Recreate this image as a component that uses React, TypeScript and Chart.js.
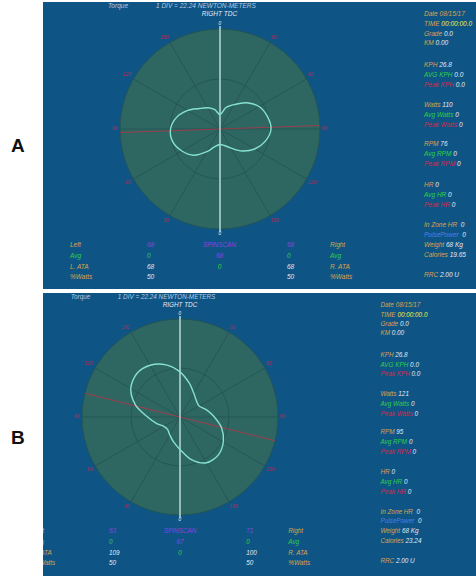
import React, { useEffect, useRef } from 'react';
import { Chart, registerables } from 'chart.js';

Chart.register(...registerables);

// ---------------- data ----------------
// crank angle (degrees, clockwise from right TDC)
const crankAngles = [0, 15, 30, 45, 60, 75, 90, 105, 120, 135, 150, 165, 180, 195, 210, 225, 240, 255, 270, 285, 300, 315, 330, 345];
// polar tick labels every 30 degrees (right leg from top, left leg from bottom)
const angleTickLabels = ['0', '30', '60', '90', '120', '150', '0', '30', '60', '90', '120', '150'];
// torque in newton-meters at each crank angle
const torqueA = [6.4, 9.8, 12.5, 16.5, 20.0, 21.8, 22.7, 20.9, 17.8, 13.8, 9.8, 7.6, 6.9, 8.0, 11.6, 16.5, 19.6, 21.8, 22.0, 20.0, 16.5, 12.9, 10.9, 8.9];
const torqueB = [20.5, 16.0, 12.5, 10.5, 10.0, 12.5, 15.6, 19.6, 22.7, 24.5, 24.0, 20.0, 14.7, 11.6, 9.3, 8.0, 8.5, 11.1, 14.7, 20.9, 25.8, 27.8, 27.1, 24.5];
const nmPerDiv = 22.24;
const divisions = 2;
const peakLineAngleA = 88;
const peakLineAngleB = 104;

const statLabels = ['Date', 'TIME', 'Grade', 'KM', 'KPH', 'AVG KPH', 'Peak KPH', 'Watts', 'Avg Watts', 'Peak Watts', 'RPM', 'Avg RPM', 'Peak RPM', 'HR', 'Avg HR', 'Peak HR', 'In Zone HR', 'PulsePower', 'Weight', 'Calories', 'RRC'];
const statValuesA = ['08/15/17', '00:00:00.0', '0.0', '0.00', '26.8', '0.0', '0.0', '110', '0', '0', '76', '0', '0', '0', '0', '0', ' 0', ' 0', '68 Kg', '19.65', '2.00 U'];
const statValuesB = ['08/15/17', '00:00:00.0', '0.0', '0.00', '26.8', '0.0', '0.0', '121', '0', '0', '95', '0', '0', '0', '0', '0', ' 0', ' 0', '68 Kg', '23.24', '2.00 U'];

const tableLabelsLeft = ['Left', 'Avg', 'L. ATA', '%Watts'];
const tableLabelsRight = ['Right', 'Avg', 'R. ATA', '%Watts'];
const leftLegA = ['68', '0', '68', '50'];
const centerA = ['SPINSCAN', '68', '0', ''];
const rightLegA = ['68', '0', '68', '50'];
const leftLegB = ['63', '0', '109', '50'];
const centerB = ['SPINSCAN', '67', '0', ''];
const rightLegB = ['71', '0', '100', '50'];

// ---------------- styles ----------------
const PANEL_BLUE = '#0e5586';
const DISC = '#2e6762';
const GRID = 'rgba(34,84,84,0.9)';
const ORANGE = '#dba24a';
const GREEN = '#2fcf45';
const RED = '#d02a4c';
const WHITE = '#e6e8f0';
const YELLOW = '#f2ec3c';
const PURPLE = '#8b3fe0';
const BLUE = '#4f7fe0';
const HEAD = '#b4c8e0';
const FONT = '"Liberation Sans", Arial, sans-serif';

const statY = [15, 25, 35, 44, 66, 76, 86, 106, 116, 126, 145, 155, 165, 186, 196, 206, 226, 236, 246, 256, 276];
const statLabelColors = [ORANGE, ORANGE, ORANGE, ORANGE, ORANGE, GREEN, RED, ORANGE, GREEN, RED, ORANGE, GREEN, RED, ORANGE, GREEN, RED, ORANGE, BLUE, ORANGE, ORANGE, ORANGE];
const statValueColors = statLabels.map((_, i) => (i === 0 ? ORANGE : i === 1 ? YELLOW : WHITE));
const tableY = [246, 257, 268, 278];
const rowValueColor = [PURPLE, GREEN, WHITE, WHITE];
const rowCenterColor = [PURPLE, PURPLE, GREEN, WHITE];
const rowLeftLabelColor = [ORANGE, GREEN, ORANGE, ORANGE];

const REF_CX = 219.5;
const REF_CY = 129;

const crankLines = {
  id: 'crankLines',
  beforeDatasetsDraw(chart: any, _args: any, opts: any) {
    const s = chart.scales.r;
    const ctx = chart.ctx;
    const R = s.drawingArea;
    const seg = (deg: number, dist: number, color: string, width: number) => {
      const a = s.getPointPosition(0, dist, (deg * Math.PI) / 180);
      const b = s.getPointPosition(0, dist, ((deg + 180) * Math.PI) / 180);
      ctx.save();
      ctx.strokeStyle = color;
      ctx.lineWidth = width;
      ctx.beginPath();
      ctx.moveTo(a.x, a.y);
      ctx.lineTo(b.x, b.y);
      ctx.stroke();
      ctx.restore();
    };
    seg(opts.peakAngle, R, 'rgba(190,50,70,0.75)', 1.2);
    seg(0, R + 3, '#b8dcd8', 1.5);
  },
};

function Polar({ torque, peakAngle, size, left, top }: any) {
  const ref = useRef<HTMLCanvasElement>(null);
  useEffect(() => {
    const labels = crankAngles.map((a) => (a % 30 === 0 ? angleTickLabels[a / 30] : ''));
    const chart = new Chart(ref.current as HTMLCanvasElement, {
      type: 'radar',
      data: {
        labels,
        datasets: [
          {
            data: torque,
            borderColor: '#86e2cf',
            borderWidth: 1.4,
            pointRadius: 0,
            fill: false,
            tension: 0.3,
            backgroundColor: 'transparent',
          },
        ],
      },
      options: {
        animation: false,
        responsive: false,
        devicePixelRatio: 1,
        layout: { padding: 0 },
        plugins: { legend: { display: false }, tooltip: { enabled: false }, crankLines: { peakAngle } } as any,
        scales: {
          r: {
            min: 0,
            max: nmPerDiv * divisions,
            backgroundColor: DISC,
            ticks: { display: false, stepSize: nmPerDiv },
            grid: { circular: true, color: GRID, lineWidth: 1 },
            angleLines: {
              color: GRID,
              lineWidth: (c: any) => (c.index % 2 === 0 ? 1 : 0),
            },
            pointLabels: {
              display: true,
              padding: 2,
              font: { size: 5, style: 'italic', family: FONT },
              color: (c: any) => (c.index % 12 === 0 ? '#dfeef2' : '#c02a55'),
            },
          } as any,
        },
      },
      plugins: [crankLines],
    });
    return () => chart.destroy();
  }, []);
  return (
    <canvas
      ref={ref}
      width={size}
      height={size}
      style={{ position: 'absolute', left, top, width: size, height: size }}
    />
  );
}

function Txt({ x, y, fs, color, children, center }: any) {
  return (
    <span
      style={{
        position: 'absolute',
        left: x,
        top: y - fs * 0.55,
        fontSize: fs,
        lineHeight: 1,
        fontStyle: 'italic',
        fontFamily: FONT,
        whiteSpace: 'pre',
        color,
        transform: center ? 'translateX(-50%)' : undefined,
      }}
    >
      {children}
    </span>
  );
}

function Panel({ rect, cx, cy, k, torque, peakAngle, statValues, leftLeg, center, rightLeg }: any) {
  const X = (x: number) => cx + (x - REF_CX) * k - rect.left;
  const Y = (y: number) => cy + (y - REF_CY) * k - rect.top;
  const fs = 6.5 * k;
  const size = Math.round(216 * k);
  return (
    <div
      style={{
        position: 'absolute',
        left: rect.left,
        top: rect.top,
        width: rect.width,
        height: rect.height,
        background: PANEL_BLUE,
        overflow: 'hidden',
      }}
    >
      <Polar torque={torque} peakAngle={peakAngle} size={size} left={cx - rect.left - size / 2} top={cy - rect.top - size / 2} />
      <Txt x={X(108)} y={Y(7)} fs={fs} color={HEAD}>Torque</Txt>
      <Txt x={X(156)} y={Y(7)} fs={fs} color={HEAD}>1 DIV = 22.24 NEWTON-METERS</Txt>
      <Txt x={X(219.5)} y={Y(15)} fs={fs} color={WHITE} center>RIGHT TDC</Txt>
      {statLabels.map((l, i) => (
        <Txt key={l} x={X(424)} y={Y(statY[i])} fs={fs} color={statLabelColors[i]}>
          {l} <span style={{ color: statValueColors[i] }}>{statValues[i]}</span>
        </Txt>
      ))}
      {tableY.map((ty, i) => (
        <React.Fragment key={i}>
          <Txt x={X(70)} y={Y(ty)} fs={fs} color={rowLeftLabelColor[i]}>{tableLabelsLeft[i]}</Txt>
          <Txt x={X(147)} y={Y(ty)} fs={fs} color={rowValueColor[i]}>{leftLeg[i]}</Txt>
          <Txt x={X(219.5)} y={Y(ty)} fs={fs} color={rowCenterColor[i]} center>{center[i]}</Txt>
          <Txt x={X(287)} y={Y(ty)} fs={fs} color={rowValueColor[i]}>{rightLeg[i]}</Txt>
          <Txt x={X(330)} y={Y(ty)} fs={fs} color={rowLeftLabelColor[i]}>{tableLabelsRight[i]}</Txt>
        </React.Fragment>
      ))}
    </div>
  );
}

export default function App() {
  return (
    <div style={{ position: 'absolute', left: 0, top: 0, width: 476, height: 576, background: '#fff', overflow: 'hidden' }}>
      <div style={{ position: 'absolute', left: 11, top: 135, fontFamily: FONT, fontWeight: 'bold', fontSize: 19, color: '#111' }}>A</div>
      <div style={{ position: 'absolute', left: 11, top: 427, fontFamily: FONT, fontWeight: 'bold', fontSize: 19, color: '#111' }}>B</div>
      <Panel
        rect={{ left: 43, top: 2, width: 433, height: 287 }}
        cx={219.5}
        cy={129}
        k={1}
        torque={torqueA}
        peakAngle={peakLineAngleA}
        statValues={statValuesA}
        leftLeg={leftLegA}
        center={centerA}
        rightLeg={rightLegA}
      />
      <Panel
        rect={{ left: 43, top: 293, width: 433, height: 283 }}
        cx={180}
        cy={417}
        k={0.98}
        torque={torqueB}
        peakAngle={peakLineAngleB}
        statValues={statValuesB}
        leftLeg={leftLegB}
        center={centerB}
        rightLeg={rightLegB}
      />
    </div>
  );
}
